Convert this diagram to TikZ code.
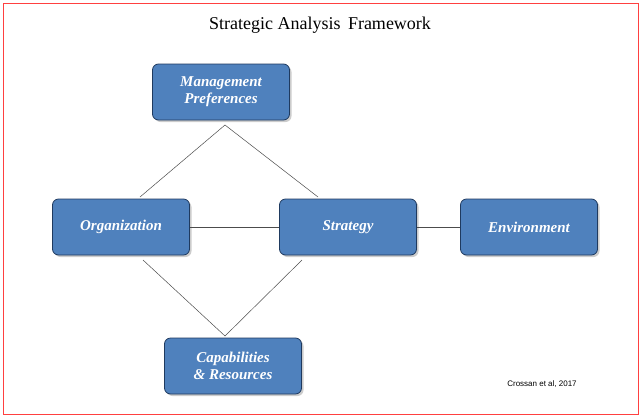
\documentclass[tikz,border=0pt]{standalone}
\usepackage{fontspec}
\setmainfont{Liberation Serif}
\newfontfamily\arial{Liberation Sans}
\usetikzlibrary{shadows}
\definecolor{boxblue}{HTML}{4F81BD}
\definecolor{boxedge}{HTML}{1F3A5F}
\begin{document}
\begin{tikzpicture}[x=1pt,y=-1pt,
  blk/.style={draw=boxedge,line width=0.8pt,fill=boxblue,rounded corners=6pt,minimum width=137pt,minimum height=56pt,
    text=white,font=\fontsize{15}{17}\selectfont\bfseries\itshape,align=center,
    drop shadow={shadow xshift=2pt,shadow yshift=-2pt,fill=black!40}},
  lnk/.style={draw=black!70,line width=0.5pt}]
\useasboundingbox (0,0) rectangle (642,418);
\draw[draw=red!75,line width=0.8pt] (3,3) rectangle (638,414);
\node[font=\fontsize{18}{20}\selectfont] (title) at (320,25) {Strategic Analysis\, Framework};
\node[blk] (mgmt) at (221,92) {Management\\Preferences};
\node[blk] (org) at (121,227) {Organization};
\node[blk] (str) at (348,227) {Strategy};
\node[blk] (env) at (529,227) {Environment};
\node[blk] (cap) at (233,366) {Capabilities\\\& Resources};
\node[font=\arial\fontsize{8}{10}\selectfont] (cite) at (542,384) {Crossan et al, 2017};
\coordinate (top) at (225,125);
\coordinate (bot) at (225,336);
\coordinate (o1) at (140,197);
\coordinate (s1) at (318,197);
\coordinate (o2) at (143,260);
\coordinate (s2) at (302,260);
\draw[lnk] (o1) -- (top) -- (s1);
\draw[lnk] (o2) -- (bot) -- (s2);
\draw[lnk] (org.east) -- (str.west);
\draw[lnk] (str.east) -- (env.west);
\end{tikzpicture}
\end{document}
